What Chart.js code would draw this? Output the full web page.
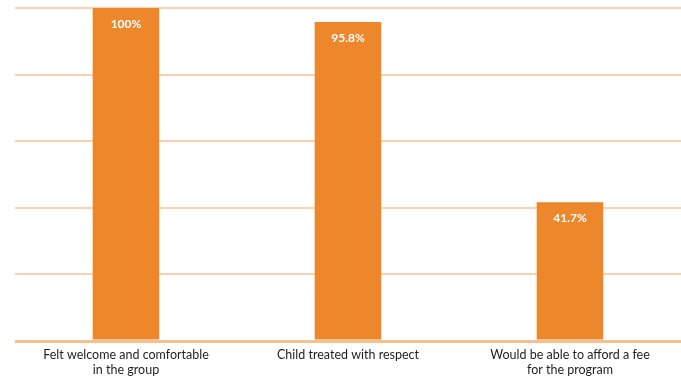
<!DOCTYPE html>
<html lang="en">
<head>
    <meta charset="UTF-8">
    <title>Survey results</title>
    <script src="https://cdn.jsdelivr.net/npm/chart.js"></script>
    <style>
        html, body { margin: 0; padding: 0; background: #fff; }
        #wrap { width: 681px; height: 377px; }
    </style>
</head>
<body>
<div id="wrap"><canvas id="surveyChart" width="681" height="377"></canvas></div>

<script>
    // categories (wrapped over two lines) and percentages
    const categories = [
        ['Felt welcome and comfortable', 'in the group'],
        'Child treated with respect',
        ['Would be able to afford a fee', 'for the program']
    ];
    const percents = [100, 95.8, 41.7];
    const valueLabels = ['100%', '95.8%', '41.7%'];
    const yTicks = [0, 20, 40, 60, 80, 100];

    // white value text written just inside the top of each bar
    const barLabels = {
        id: 'barLabels',
        afterDatasetsDraw(chart) {
            const ctx = chart.ctx;
            const meta = chart.getDatasetMeta(0);
            ctx.save();
            ctx.fillStyle = '#ffffff';
            ctx.font = 'bold 12px Lato';
            ctx.textAlign = 'center';
            ctx.textBaseline = 'middle';
            meta.data.forEach(function (bar, i) {
                ctx.fillText(valueLabels[i], bar.x, bar.y + 16);
            });
            ctx.restore();
        }
    };

    const ctx = document.getElementById('surveyChart').getContext('2d');
    new Chart(ctx, {
        type: 'bar',
        data: {
            labels: categories,
            datasets: [{
                data: percents,
                backgroundColor: '#ed872b',
                borderWidth: 0,
                categoryPercentage: 1,
                barPercentage: 0.3
            }]
        },
        options: {
            responsive: false,
            animation: false,
            layout: { padding: { left: 15, right: 0, top: 8, bottom: 0 } },
            plugins: {
                legend: { display: false },
                tooltip: { enabled: false }
            },
            scales: {
                x: {
                    grid: { display: false, drawTicks: false },
                    border: { display: false },
                    ticks: {
                        color: '#1e1e1e',
                        font: { family: 'Lato', size: 12.5, lineHeight: 1.2 },
                        padding: 6,
                        maxRotation: 0
                    },
                    afterFit(axis) { axis.height = 36; }
                },
                y: {
                    min: 0,
                    max: 100,
                    afterBuildTicks(axis) {
                        axis.ticks = yTicks.map(v => ({ value: v }));
                    },
                    ticks: { display: false },
                    border: { display: false },
                    grid: {
                        drawTicks: false,
                        color: c => c.tick && c.tick.value === 0 ? '#f5bf8e' : '#fbd2ae',
                        lineWidth: c => c.tick && c.tick.value === 0 ? 3 : 2
                    }
                }
            }
        },
        plugins: [barLabels]
    });
</script>
</body>
</html>
